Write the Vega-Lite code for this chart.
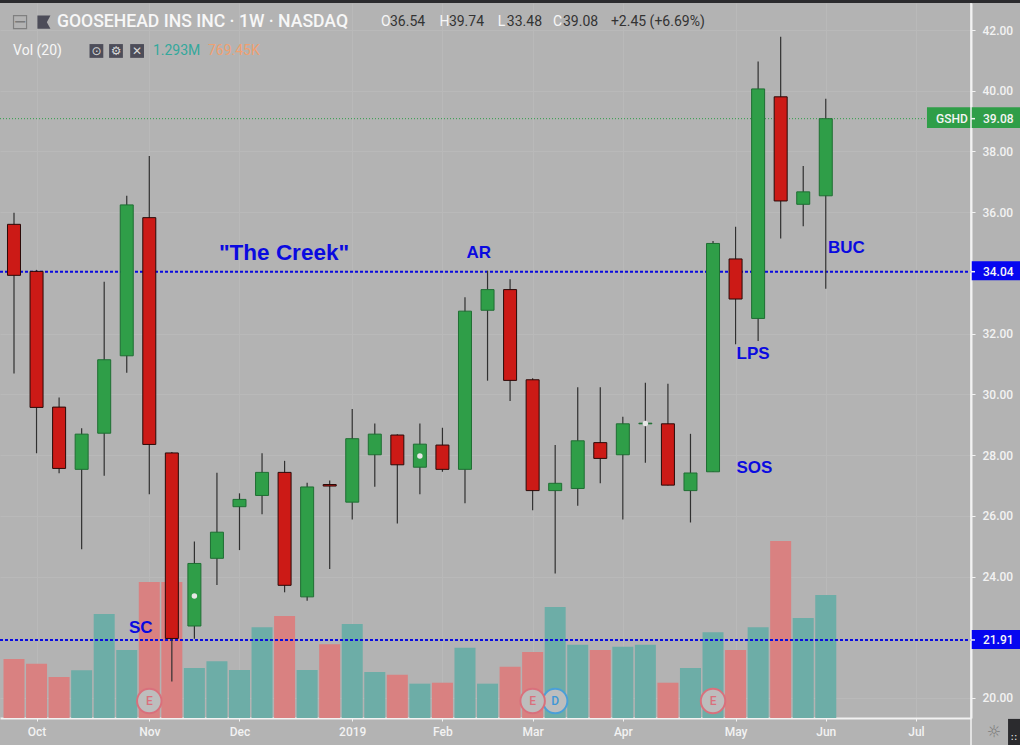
{
  "$schema": "https://vega.github.io/schema/vega-lite/v6.json",
  "width": 971,
  "height": 715,
  "autosize": "none",
  "padding": {"left": 0, "top": 3, "right": 49, "bottom": 27},
  "background": "#b3b3b3",
  "config": {"view": {"stroke": null}, "font": "Roboto"},
  "datasets": {
    "candles": [
      {"date": "2018-09-24", "open": 35.6, "high": 35.98, "low": 30.69, "close": 33.92, "volume": 620000, "dir": "down"},
      {"date": "2018-10-01", "open": 34.05, "high": 34.1, "low": 28.06, "close": 29.57, "volume": 571000, "dir": "down"},
      {"date": "2018-10-08", "open": 29.58, "high": 29.9, "low": 27.4, "close": 27.56, "volume": 431000, "dir": "down"},
      {"date": "2018-10-15", "open": 27.53, "high": 28.88, "low": 24.9, "close": 28.69, "volume": 501000, "dir": "up"},
      {"date": "2018-10-22", "open": 28.72, "high": 33.71, "low": 27.32, "close": 31.14, "volume": 1093000, "dir": "up"},
      {"date": "2018-10-29", "open": 31.27, "high": 36.54, "low": 30.71, "close": 36.24, "volume": 715000, "dir": "up"},
      {"date": "2018-11-05", "open": 35.82, "high": 37.85, "low": 26.71, "close": 28.35, "volume": 1430000, "dir": "down"},
      {"date": "2018-11-12", "open": 28.07, "high": 28.1, "low": 20.54, "close": 21.96, "volume": 1430000, "dir": "down"},
      {"date": "2018-11-19", "open": 22.37, "high": 25.15, "low": 21.95, "close": 24.43, "volume": 526000, "dir": "up"},
      {"date": "2018-11-26", "open": 24.6, "high": 27.42, "low": 23.72, "close": 25.46, "volume": 596000, "dir": "up"},
      {"date": "2018-12-03", "open": 26.3, "high": 26.74, "low": 24.87, "close": 26.54, "volume": 505000, "dir": "up"},
      {"date": "2018-12-10", "open": 26.67, "high": 28.06, "low": 26.05, "close": 27.43, "volume": 953000, "dir": "up"},
      {"date": "2018-12-17", "open": 27.43, "high": 27.81, "low": 23.48, "close": 23.71, "volume": 1072000, "dir": "down"},
      {"date": "2018-12-24", "open": 23.33, "high": 27.09, "low": 23.2, "close": 26.95, "volume": 505000, "dir": "up"},
      {"date": "2018-12-31", "open": 27.03, "high": 27.16, "low": 24.25, "close": 26.98, "volume": 775000, "dir": "down"},
      {"date": "2019-01-07", "open": 26.45, "high": 29.52, "low": 25.88, "close": 28.54, "volume": 988000, "dir": "up"},
      {"date": "2019-01-14", "open": 28.01, "high": 29.04, "low": 26.96, "close": 28.69, "volume": 484000, "dir": "up"},
      {"date": "2019-01-21", "open": 28.66, "high": 28.69, "low": 25.75, "close": 27.68, "volume": 455000, "dir": "down"},
      {"date": "2019-01-28", "open": 27.6, "high": 29.04, "low": 26.71, "close": 28.36, "volume": 361000, "dir": "up"},
      {"date": "2019-02-04", "open": 28.33, "high": 28.9, "low": 27.45, "close": 27.53, "volume": 371000, "dir": "down"},
      {"date": "2019-02-11", "open": 27.53, "high": 33.2, "low": 26.41, "close": 32.74, "volume": 739000, "dir": "up"},
      {"date": "2019-02-18", "open": 32.77, "high": 34.07, "low": 30.45, "close": 33.45, "volume": 361000, "dir": "up"},
      {"date": "2019-02-25", "open": 33.45, "high": 33.79, "low": 29.78, "close": 30.46, "volume": 539000, "dir": "down"},
      {"date": "2019-03-04", "open": 30.48, "high": 30.53, "low": 26.18, "close": 26.83, "volume": 694000, "dir": "down"},
      {"date": "2019-03-11", "open": 26.83, "high": 28.33, "low": 24.1, "close": 27.07, "volume": 1167000, "dir": "up"},
      {"date": "2019-03-18", "open": 26.9, "high": 30.23, "low": 26.33, "close": 28.47, "volume": 771000, "dir": "up"},
      {"date": "2019-03-25", "open": 28.41, "high": 30.23, "low": 27.07, "close": 27.89, "volume": 715000, "dir": "down"},
      {"date": "2019-04-01", "open": 28.01, "high": 29.26, "low": 25.88, "close": 29.03, "volume": 750000, "dir": "up"},
      {"date": "2019-04-08", "open": 29.03, "high": 30.38, "low": 27.75, "close": 29.05, "volume": 771000, "dir": "up"},
      {"date": "2019-04-15", "open": 29.03, "high": 30.35, "low": 27.0, "close": 27.01, "volume": 371000, "dir": "down"},
      {"date": "2019-04-22", "open": 26.83, "high": 28.7, "low": 25.78, "close": 27.41, "volume": 526000, "dir": "up"},
      {"date": "2019-04-29", "open": 27.45, "high": 35.05, "low": 27.44, "close": 34.97, "volume": 901000, "dir": "up"},
      {"date": "2019-05-06", "open": 34.46, "high": 35.52, "low": 31.65, "close": 33.14, "volume": 715000, "dir": "down"},
      {"date": "2019-05-13", "open": 32.5, "high": 40.96, "low": 31.76, "close": 40.06, "volume": 953000, "dir": "up"},
      {"date": "2019-05-20", "open": 39.8, "high": 41.78, "low": 35.13, "close": 36.37, "volume": 1861000, "dir": "down"},
      {"date": "2019-05-27", "open": 36.26, "high": 37.52, "low": 35.54, "close": 36.67, "volume": 1051000, "dir": "up"},
      {"date": "2019-06-03", "open": 36.54, "high": 39.74, "low": 33.48, "close": 39.08, "volume": 1293000, "dir": "up"}
    ],
    "levels": [
      {"date": "2018-09-19T15:42", "date2": "2019-07-18T02:00", "price": 34.04, "kind": "blue"},
      {"date": "2018-09-19T15:42", "date2": "2019-07-18T02:00", "price": 21.91, "kind": "blue"},
      {"date": "2018-09-19T15:42", "date2": "2019-07-04T10:00", "price": 39.08, "kind": "last"}
    ],
    "boxes": [
      {"date": "2019-07-04T10:00", "date2": "2019-08-03", "top": 39.46, "bottom": 38.77, "kind": "green"},
      {"date": "2019-07-18T02:00", "date2": "2019-08-03", "top": 34.38, "bottom": 33.76, "kind": "blue"},
      {"date": "2019-07-18T02:00", "date2": "2019-08-03", "top": 22.24, "bottom": 21.61, "kind": "blue"},
      {"date": "2018-09-18", "date2": "2019-08-03", "top": 43.0, "bottom": 42.89, "kind": "dark"},
      {"date": "2019-07-29T14:00", "date2": "2019-08-03", "top": 19.31, "bottom": 18.4, "kind": "dark"}
    ],
    "edges": [
      {"date": "2019-07-18T02:00", "date2": "2019-07-19T08:00", "top": 39.08, "bottom": 39.08},
      {"date": "2019-07-18T02:00", "date2": "2019-07-19T08:00", "top": 34.04, "bottom": 34.04},
      {"date": "2019-07-18T02:00", "date2": "2019-07-19T08:00", "top": 21.91, "bottom": 21.91},
      {"date": "2019-07-18T02:00", "date2": "2019-07-18T02:00", "top": 42.89, "bottom": 18.4}
    ],
    "events": [
      {"date": "2018-11-05", "price": 19.9, "text": "E", "kind": "earnings"},
      {"date": "2019-03-11", "price": 19.9, "text": "D", "kind": "dividend"},
      {"date": "2019-03-04", "price": 19.9, "text": "E", "kind": "earnings"},
      {"date": "2019-04-29", "price": 19.9, "text": "E", "kind": "earnings"}
    ],
    "dots": [
      {"date": "2018-11-19", "price": 23.36},
      {"date": "2019-01-28", "price": 27.97},
      {"date": "2019-04-08", "price": 29.04}
    ],
    "notes": [
      {"date": "2018-11-26T15:00", "price": 34.65, "text": "\"The Creek\"", "kind": "big"},
      {"date": "2019-02-11T12:00", "price": 34.65, "text": "AR", "kind": "small"},
      {"date": "2018-10-29T17:00", "price": 22.3, "text": "SC", "kind": "small"},
      {"date": "2019-06-03T17:00", "price": 34.83, "text": "BUC", "kind": "small"},
      {"date": "2019-05-06T07:00", "price": 31.33, "text": "LPS", "kind": "small"},
      {"date": "2019-05-06T07:00", "price": 27.56, "text": "SOS", "kind": "small"}
    ],
    "header": [
      {"date": "2018-10-07T08:00", "price": 42.26, "text": "GOOSEHEAD INS INC · 1W · NASDAQ", "kind": "title"},
      {"date": "2019-01-15T22:00", "price": 42.26, "text": "O", "kind": "key"},
      {"date": "2019-01-18T17:00", "price": 42.26, "text": "36.54", "kind": "value"},
      {"date": "2019-02-03T02:00", "price": 42.26, "text": "H", "kind": "key"},
      {"date": "2019-02-06T00:00", "price": 42.26, "text": "39.74", "kind": "value"},
      {"date": "2019-02-21T05:00", "price": 42.26, "text": "L", "kind": "key"},
      {"date": "2019-02-24T00:00", "price": 42.26, "text": "33.48", "kind": "value"},
      {"date": "2019-03-10T07:00", "price": 42.26, "text": "C", "kind": "key"},
      {"date": "2019-03-13T10:00", "price": 42.26, "text": "39.08", "kind": "value"},
      {"date": "2019-03-28T07:00", "price": 42.26, "text": "+2.45 (+6.69%)", "kind": "value"},
      {"date": "2018-09-23T17:00", "price": 41.31, "text": "Vol (20)", "kind": "key"},
      {"date": "2018-11-06T03:00", "price": 41.31, "text": "1.293M", "kind": "vol"},
      {"date": "2018-11-23T05:00", "price": 41.31, "text": "769.45K", "kind": "ma"}
    ],
    "icons": [
      {"date": "2018-10-19T14:00", "price": 41.31, "text": "⊙"},
      {"date": "2018-10-25T16:00", "price": 41.31, "text": "⚙"},
      {"date": "2018-11-01T05:00", "price": 41.31, "text": "✕"}
    ],
    "controls": [
      {"date": "2018-09-25T21:00", "price": 42.26, "text": "−", "kind": "collapse"},
      {"date": "2019-07-25T05:00", "price": 18.88, "text": "☼", "kind": "sun"}
    ],
    "grip": [
      {"date": "2019-07-31T10:00", "price": 18.7, "text": "::"}
    ],
    "flag": [
      {"date": "2018-10-03T07:00", "price": 42.26}
    ],
    "tags": [
      {"date": "2019-07-07T05:00", "price": 39.08, "text": "GSHD"},
      {"date": "2019-07-21T19:00", "price": 39.08, "text": "39.08"},
      {"date": "2019-07-21T19:00", "price": 34.04, "text": "34.04"},
      {"date": "2019-07-21T19:00", "price": 21.91, "text": "21.91"}
    ]
  },
  "encoding": {
    "x": {
      "field": "date",
      "type": "temporal",
      "title": null,
      "scale": {"type": "utc", "nice": false, "padding": 0, "domain": ["2018-09-19T15:42", "2019-07-18T02:00"]},
      "axis": {
        "values": ["2018-10-01", "2018-11-05", "2018-12-03", "2019-01-07", "2019-02-04", "2019-03-04", "2019-04-01", "2019-05-06", "2019-06-03", "2019-07-01"],
        "labelExpr": "utcFormat(datum.value, utcmonth(datum.value) == 0 ? '%Y' : '%b')",
        "labelColor": "#f2f2f2",
        "labelFontSize": 12,
        "labelFontWeight": 500,
        "labelPadding": 5,
        "tickColor": "#f2f2f2",
        "tickSize": 3,
        "domainColor": "#f2f2f2",
        "domainWidth": 2,
        "grid": true,
        "gridColor": "#b9b9b9",
        "gridWidth": 1
      }
    }
  },
  "resolve": {"scale": {"y": "independent"}},
  "layer": [
    {
      "data": {"name": "candles"},
      "mark": {"type": "bar", "width": 21},
      "encoding": {
        "y": {"field": "volume", "type": "quantitative", "axis": null, "scale": {"domain": [0, 7516000]}},
        "color": {"condition": {"test": "datum.dir == 'up'", "value": "#6dada7"}, "value": "#d98181"}
      }
    },
    {
      "layer": [
        {
          "data": {"name": "levels"},
          "mark": {"type": "rule", "strokeDash": [3, 2], "strokeWidth": 2, "color": "#0a0ae0"},
          "transform": [{"filter": "datum.kind == 'blue'"}],
          "encoding": {
            "x2": {"field": "date2"},
            "y": {
              "field": "price",
              "type": "quantitative",
              "title": null,
              "scale": {"nice": false, "zero": false, "domain": [19.34, 42.89]},
              "axis": {
                "orient": "right",
                "values": [20, 24, 26, 28, 30, 32, 36, 38, 40, 42],
                "format": ".2f",
                "labelColor": "#f2f2f2",
                "labelFontSize": 12,
                "labelFontWeight": 500,
                "labelPadding": 7,
                "tickColor": "#f2f2f2",
                "tickSize": 4,
                "domainColor": "#f2f2f2",
                "domainWidth": 2,
                "grid": true,
                "gridColor": "#b9b9b9",
                "gridWidth": 1
              }
            }
          }
        },
        {
          "data": {"name": "levels"},
          "mark": {"type": "rule", "strokeDash": [1, 2], "strokeWidth": 1, "color": "#2f9e48"},
          "transform": [{"filter": "datum.kind == 'last'"}],
          "encoding": {
            "x2": {"field": "date2"},
            "y": {"field": "price", "type": "quantitative", "scale": {"nice": false, "zero": false, "domain": [19.34, 42.89]}}
          }
        },
        {
          "data": {"name": "candles"},
          "mark": {"type": "rule", "color": "#303030", "strokeWidth": 1.2},
          "encoding": {
            "y": {"field": "low", "type": "quantitative", "scale": {"nice": false, "zero": false, "domain": [19.34, 42.89]}},
            "y2": {"field": "high"}
          }
        },
        {
          "data": {"name": "candles"},
          "mark": {"type": "bar", "width": 13, "strokeWidth": 1},
          "encoding": {
            "y": {"field": "open", "type": "quantitative", "scale": {"nice": false, "zero": false, "domain": [19.34, 42.89]}},
            "y2": {"field": "close"},
            "fill": {"condition": {"test": "datum.dir == 'up'", "value": "#2f9e48"}, "value": "#cc1a16"},
            "stroke": {"condition": {"test": "datum.dir == 'up'", "value": "#1f6e33"}, "value": "#2a0a08"}
          }
        },
        {
          "data": {"name": "dots"},
          "mark": {"type": "point", "filled": true, "size": 30, "color": "#e6e6e6", "opacity": 1},
          "encoding": {"y": {"field": "price", "type": "quantitative", "scale": {"nice": false, "zero": false, "domain": [19.34, 42.89]}}}
        },
        {
          "data": {"name": "events"},
          "mark": {"type": "point", "filled": true, "size": 600, "strokeWidth": 2, "fill": "#bdbdbd", "opacity": 1},
          "encoding": {
            "y": {"field": "price", "type": "quantitative", "scale": {"nice": false, "zero": false, "domain": [19.34, 42.89]}},
            "stroke": {"condition": {"test": "datum.kind == 'earnings'", "value": "#d9707c"}, "value": "#4a9fd8"}
          }
        },
        {
          "data": {"name": "events"},
          "mark": {"type": "text", "fontSize": 12, "fontWeight": 500, "align": "center", "baseline": "middle"},
          "encoding": {
            "y": {"field": "price", "type": "quantitative", "scale": {"nice": false, "zero": false, "domain": [19.34, 42.89]}},
            "text": {"field": "text"},
            "color": {"condition": {"test": "datum.kind == 'earnings'", "value": "#d9707c"}, "value": "#3f96d6"}
          }
        },
        {
          "data": {"name": "boxes"},
          "mark": {"type": "rect"},
          "encoding": {
            "x2": {"field": "date2"},
            "y": {"field": "top", "type": "quantitative", "scale": {"nice": false, "zero": false, "domain": [19.34, 42.89]}},
            "y2": {"field": "bottom"},
            "color": {"condition": [
              {"test": "datum.kind == 'green'", "value": "#2f9e48"},
              {"test": "datum.kind == 'blue'", "value": "#0606f0"}
            ], "value": "#2b2b2e"}
          }
        },
        {
          "data": {"name": "edges"},
          "mark": {"type": "rule", "color": "#f2f2f2", "strokeWidth": 1.5},
          "encoding": {
            "x2": {"field": "date2"},
            "y": {"field": "top", "type": "quantitative", "scale": {"nice": false, "zero": false, "domain": [19.34, 42.89]}},
            "y2": {"field": "bottom"}
          }
        },
        {
          "data": {"name": "tags"},
          "mark": {"type": "text", "align": "left", "baseline": "middle", "fontSize": 12, "fontWeight": 500, "color": "#f5f5f5"},
          "encoding": {
            "y": {"field": "price", "type": "quantitative", "scale": {"nice": false, "zero": false, "domain": [19.34, 42.89]}},
            "text": {"field": "text"}
          }
        },
        {
          "data": {"name": "notes"},
          "transform": [{"filter": "datum.kind == 'big'"}],
          "mark": {"type": "text", "align": "left", "baseline": "middle", "font": "Liberation Sans", "fontWeight": "bold", "fontSize": 22.5, "color": "#0a0ae0"},
          "encoding": {
            "y": {"field": "price", "type": "quantitative", "scale": {"nice": false, "zero": false, "domain": [19.34, 42.89]}},
            "text": {"field": "text"}
          }
        },
        {
          "data": {"name": "notes"},
          "transform": [{"filter": "datum.kind == 'small'"}],
          "mark": {"type": "text", "align": "left", "baseline": "middle", "font": "Liberation Sans", "fontWeight": "bold", "fontSize": 17, "color": "#0a0ae0"},
          "encoding": {
            "y": {"field": "price", "type": "quantitative", "scale": {"nice": false, "zero": false, "domain": [19.34, 42.89]}},
            "text": {"field": "text"}
          }
        },
        {
          "data": {"name": "header"},
          "transform": [{"filter": "datum.kind == 'title'"}],
          "mark": {"type": "text", "align": "left", "baseline": "middle", "fontSize": 17.6, "fontWeight": 500, "color": "#f7f7f7"},
          "encoding": {
            "y": {"field": "price", "type": "quantitative", "scale": {"nice": false, "zero": false, "domain": [19.34, 42.89]}},
            "text": {"field": "text"}
          }
        },
        {
          "data": {"name": "header"},
          "transform": [{"filter": "datum.kind != 'title'"}],
          "mark": {"type": "text", "align": "left", "baseline": "middle", "fontSize": 14},
          "encoding": {
            "y": {"field": "price", "type": "quantitative", "scale": {"nice": false, "zero": false, "domain": [19.34, 42.89]}},
            "text": {"field": "text"},
            "color": {"condition": [
              {"test": "datum.kind == 'key'", "value": "#f7f7f7"},
              {"test": "datum.kind == 'value'", "value": "#333333"},
              {"test": "datum.kind == 'vol'", "value": "#33a89c"}
            ], "value": "#f0a070"}
          }
        },
        {
          "data": {"name": "icons"},
          "mark": {"type": "point", "shape": "square", "filled": true, "size": 190, "color": "#4d4d59", "opacity": 1},
          "encoding": {"y": {"field": "price", "type": "quantitative", "scale": {"nice": false, "zero": false, "domain": [19.34, 42.89]}}}
        },
        {
          "data": {"name": "icons"},
          "mark": {"type": "text", "align": "center", "baseline": "middle", "font": "DejaVu Sans", "fontSize": 12, "color": "#d8d8d8"},
          "encoding": {
            "y": {"field": "price", "type": "quantitative", "scale": {"nice": false, "zero": false, "domain": [19.34, 42.89]}},
            "text": {"field": "text"}
          }
        },
        {
          "data": {"name": "flag"},
          "mark": {"type": "point", "shape": "M-1,-1H1L0.45,0L1,1H-1Z", "filled": true, "size": 170, "color": "#4d4d59", "opacity": 1},
          "encoding": {"y": {"field": "price", "type": "quantitative", "scale": {"nice": false, "zero": false, "domain": [19.34, 42.89]}}}
        },
        {
          "data": {"name": "controls"},
          "transform": [{"filter": "datum.kind == 'collapse'"}],
          "mark": {"type": "point", "shape": "square", "size": 170, "strokeWidth": 1.2, "color": "#808080", "opacity": 1},
          "encoding": {"y": {"field": "price", "type": "quantitative", "scale": {"nice": false, "zero": false, "domain": [19.34, 42.89]}}}
        },
        {
          "data": {"name": "controls"},
          "mark": {"type": "text", "align": "center", "baseline": "middle", "font": "DejaVu Sans", "fontSize": 16, "color": "#7a7a7a"},
          "encoding": {
            "y": {"field": "price", "type": "quantitative", "scale": {"nice": false, "zero": false, "domain": [19.34, 42.89]}},
            "text": {"field": "text"}
          }
        },
        {
          "data": {"name": "grip"},
          "mark": {"type": "text", "align": "center", "baseline": "middle", "font": "DejaVu Sans", "fontSize": 10, "color": "#f0f0f0"},
          "encoding": {
            "y": {"field": "price", "type": "quantitative", "scale": {"nice": false, "zero": false, "domain": [19.34, 42.89]}},
            "text": {"field": "text"}
          }
        }
      ]
    }
  ]
}
